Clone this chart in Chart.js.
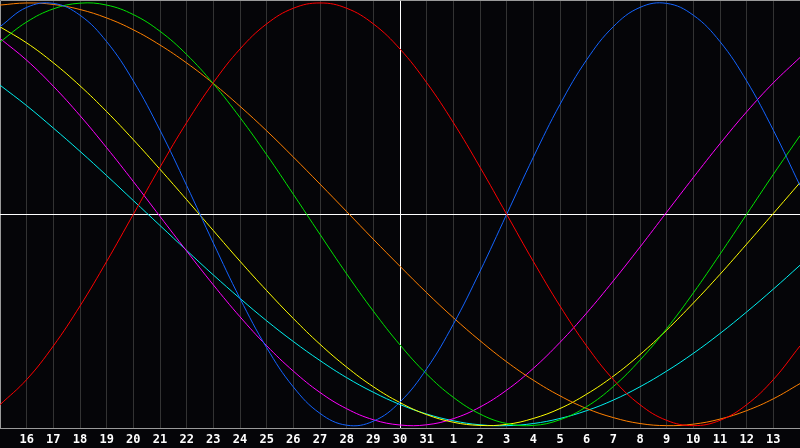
<!DOCTYPE html>
<html>
<head>
<meta charset="utf-8">
<script src="https://cdn.jsdelivr.net/npm/chart.js@4/dist/chart.umd.min.js"></script>
<style>
  html, body { margin: 0; padding: 0; background: #050508; }
  #wrap { width: 800px; height: 448px; }
</style>
</head>
<body>
<div id="wrap"><canvas id="bioChart"></canvas></div>
<script>
// days shown on the x axis (first and last sit on the frame edges)
const days = [15, 16, 17, 18, 19, 20, 21, 22, 23, 24, 25, 26, 27, 28, 29, 30, 31,
              1, 2, 3, 4, 5, 6, 7, 8, 9, 10, 11, 12, 13, 14];
const todayIndex = 15; // day 30

// curve values, one per day
const red = [-0.901, -0.782, -0.623, -0.434, -0.223, 0.000, 0.223, 0.434, 0.623, 0.782, 0.901, 0.975, 1.000, 0.975, 0.901, 0.782,
             0.623, 0.434, 0.223, 0.000, -0.223, -0.434, -0.623, -0.782, -0.901, -0.975, -1.000, -0.975, -0.901, -0.782, -0.623];
const blue = [0.888, 0.979, 0.998, 0.942, 0.817, 0.631, 0.398, 0.136, -0.136, -0.398, -0.631, -0.817, -0.942, -0.998, -0.979, -0.888,
              -0.731, -0.520, -0.270, 0.000, 0.270, 0.520, 0.731, 0.888, 0.979, 0.998, 0.942, 0.817, 0.631, 0.398, 0.136];
const green = [0.815, 0.910, 0.972, 0.999, 0.990, 0.945, 0.866, 0.756, 0.618, 0.458, 0.282, 0.095, -0.095, -0.282, -0.458, -0.618,
               -0.756, -0.866, -0.945, -0.990, -0.999, -0.972, -0.910, -0.815, -0.690, -0.541, -0.372, -0.189, 0.000, 0.189, 0.372];
const orange = [0.990, 1.000, 0.993, 0.969, 0.929, 0.873, 0.801, 0.716, 0.619, 0.511, 0.395, 0.271, 0.143, 0.013, -0.118, -0.246,
                -0.371, -0.489, -0.598, -0.698, -0.785, -0.859, -0.919, -0.962, -0.990, -1.000, -0.993, -0.969, -0.929, -0.873, -0.801];
const yellow = [0.887, 0.811, 0.717, 0.608, 0.486, 0.353, 0.213, 0.069, -0.077, -0.222, -0.361, -0.493, -0.615, -0.723, -0.816, -0.891,
                -0.948, -0.984, -0.999, -0.994, -0.966, -0.919, -0.851, -0.766, -0.664, -0.548, -0.420, -0.284, -0.141, 0.004, 0.150];
const magenta = [0.832, 0.729, 0.606, 0.467, 0.315, 0.155, -0.010, -0.174, -0.334, -0.485, -0.622, -0.742, -0.843, -0.920, -0.972, -0.997,
                 -0.996, -0.967, -0.912, -0.832, -0.729, -0.606, -0.467, -0.315, -0.155, 0.010, 0.174, 0.334, 0.485, 0.622, 0.742];
const cyan = [0.611, 0.514, 0.408, 0.298, 0.183, 0.065, -0.053, -0.171, -0.287, -0.398, -0.504, -0.602, -0.692, -0.773, -0.842, -0.900,
              -0.945, -0.977, -0.996, -1.000, -0.990, -0.966, -0.929, -0.879, -0.816, -0.742, -0.658, -0.564, -0.462, -0.354, -0.241];

const yMin = -1.014;
const yMax = 1.014;

function curve(data, color) {
    return {
        data: data,
        borderColor: color,
        borderWidth: 1,
        pointRadius: 0,
        tension: 0.4,
        fill: false
    };
}

// frame (left + top) and the zero line, drawn under the curves
const framePlugin = {
    id: 'frame',
    beforeDatasetsDraw(chart) {
        const { ctx, chartArea: a, scales } = chart;
        const y0 = Math.round(scales.y.getPixelForValue(0)) + 0.5;
        ctx.save();
        ctx.lineWidth = 1;
        ctx.strokeStyle = '#9a9a9a';
        ctx.beginPath();
        ctx.moveTo(a.left + 0.5, a.bottom);
        ctx.lineTo(a.left + 0.5, a.top + 0.5);
        ctx.lineTo(a.right, a.top + 0.5);
        ctx.stroke();
        ctx.strokeStyle = '#ffffff';
        ctx.beginPath();
        ctx.moveTo(a.left, y0);
        ctx.lineTo(a.right, y0);
        ctx.stroke();
        ctx.restore();
    }
};

new Chart(document.getElementById('bioChart'), {
    type: 'line',
    data: {
        labels: days.map(d => d.toString()),
        datasets: [
            curve(red, '#ff0000'),
            curve(blue, '#1464ff'),
            curve(green, '#00e400'),
            curve(orange, '#ff8000'),
            curve(yellow, '#ffff00'),
            curve(magenta, '#ff00ff'),
            curve(cyan, '#00f0f0')
        ]
    },
    options: {
        responsive: true,
        maintainAspectRatio: false,
        animation: false,
        layout: { padding: { left: 0, right: 0, top: 0, bottom: -3 } },
        scales: {
            x: {
                offset: false,
                afterFit: axis => {
                    axis.paddingLeft = 0;
                    axis.paddingRight = 0;
                },
                grid: {
                    drawTicks: false,
                    color: ctx => ctx.index === todayIndex ? '#ffffff' : '#333333'
                },
                border: { color: '#9a9a9a' },
                ticks: {
                    autoSkip: false,
                    maxRotation: 0,
                    padding: 4,
                    color: '#ffffff',
                    font: { family: 'DejaVu Sans Mono', weight: 'bold', size: 12 },
                    callback: function(value, index) {
                        return (index === 0 || index === days.length - 1) ? '' : this.getLabelForValue(value);
                    }
                }
            },
            y: {
                display: false,
                min: yMin,
                max: yMax
            }
        },
        plugins: {
            legend: { display: false },
            tooltip: { enabled: false }
        }
    },
    plugins: [framePlugin]
});
</script>
</body>
</html>
